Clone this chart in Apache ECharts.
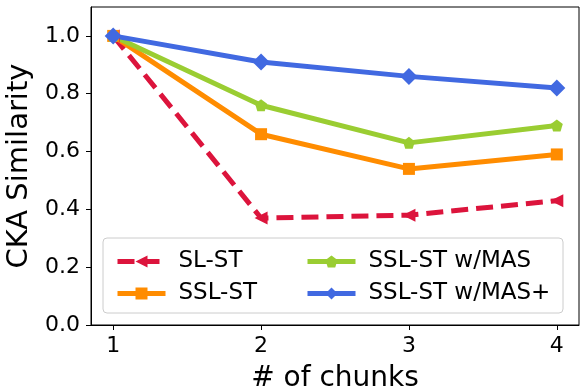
<!DOCTYPE html>
<html lang="en">
<head>
    <meta charset="UTF-8">
    <title>CKA Similarity</title>
    <script src="https://cdn.jsdelivr.net/npm/echarts@6/dist/echarts.min.js"></script>
    <style type="text/css">
        html, body {
            margin: 0;
            padding: 0;
            background: #fff;
        }

        #chart {
            width: 580px;
            height: 387px;
        }
    </style>
</head>
<body>
<div id="chart"></div>
<script type="text/javascript">
    // data
    const chunks = [1, 2, 3, 4];
    const slSt = [1.0, 0.37, 0.38, 0.43];
    const sslSt = [1.0, 0.66, 0.54, 0.59];
    const sslStMas = [1.0, 0.76, 0.63, 0.69];
    const sslStMasPlus = [1.0, 0.91, 0.86, 0.82];
    const yTicks = [0, 0.2, 0.4, 0.6, 0.8, 1.0];

    const font = "DejaVu Sans";
    const pentagon = 'path://M0,-1 L0.951,-0.309 L0.588,0.809 L-0.588,0.809 L-0.951,-0.309 Z';

    function pairs(values) {
        return chunks.map((c, i) => [c, values[i]]);
    }

    function makeSeries(name, values, color, symbol, size, extra) {
        let s = {
            name: name,
            type: 'line',
            data: pairs(values),
            symbol: symbol,
            symbolSize: size,
            color: color,
            itemStyle: {color: color},
            lineStyle: {color: color, width: 5},
            emphasis: {disabled: true},
            animation: false
        };
        return Object.assign(s, extra || {});
    }

    const chart = echarts.init(document.getElementById("chart"));
    const legendText = {fontFamily: font, fontSize: 23, color: '#000', padding: [0, 0, 0, 8]};

    function legendAt(left, names) {
        return {
            orient: 'vertical',
            left: left,
            top: 245,
            itemWidth: 48,
            itemHeight: 15,
            itemGap: 9,
            lineStyle: {width: 5},
            textStyle: legendText,
            data: names,
            z: 5
        };
    }

    chart.setOption({
        animation: false,
        grid: {
            left: 91, right: 1, top: 7, bottom: 62,
            outerBoundsMode: 'none',
            show: true, borderColor: '#000', borderWidth: 1
        },
        graphic: [{
            type: 'rect',
            z: 3,
            shape: {x: 103, y: 238, width: 460, height: 75, r: 4},
            style: {fill: 'rgba(255,255,255,0.8)', stroke: '#cccccc', lineWidth: 1}
        }],
        legend: [
            legendAt(110, ['SL-ST', 'SSL-ST']),
            legendAt(300, ['SSL-ST w/MAS', 'SSL-ST w/MAS+'])
        ],
        xAxis: {
            type: 'value',
            min: 0.85,
            max: 4.15,
            name: '# of chunks',
            nameLocation: 'middle',
            nameGap: 40,
            nameTextStyle: {fontFamily: font, fontSize: 28, color: '#000'},
            axisLine: {lineStyle: {color: '#000', width: 1}},
            axisTick: {show: true, length: 5, customValues: chunks, lineStyle: {color: '#000'}},
            axisLabel: {
                customValues: chunks, margin: 10,
                fontFamily: font, fontSize: 22, color: '#000'
            },
            splitLine: {show: false}
        },
        yAxis: {
            type: 'value',
            min: 0,
            max: 1.1,
            name: 'CKA Similarity',
            nameLocation: 'middle',
            nameGap: 56,
            nameTextStyle: {fontFamily: font, fontSize: 29, color: '#000'},
            axisLine: {show: true, lineStyle: {color: '#000', width: 1}},
            axisTick: {show: true, length: 5, customValues: yTicks, lineStyle: {color: '#000'}},
            axisLabel: {
                customValues: yTicks, margin: 11,
                fontFamily: font, fontSize: 22, color: '#000',
                formatter: v => v.toFixed(1)
            },
            splitLine: {show: false}
        },
        series: [
            makeSeries('SL-ST', slSt, '#DC143C', 'triangle', 13, {
                symbolRotate: 90,
                lineStyle: {color: '#DC143C', width: 5, type: [17, 8]}
            }),
            makeSeries('SSL-ST', sslSt, '#FF8C00', 'rect', 12),
            makeSeries('SSL-ST w/MAS', sslStMas, '#9ACD32', pentagon, 12),
            makeSeries('SSL-ST w/MAS+', sslStMasPlus, '#4169E1', 'diamond', 17)
        ]
    });
</script>
</body>
</html>
